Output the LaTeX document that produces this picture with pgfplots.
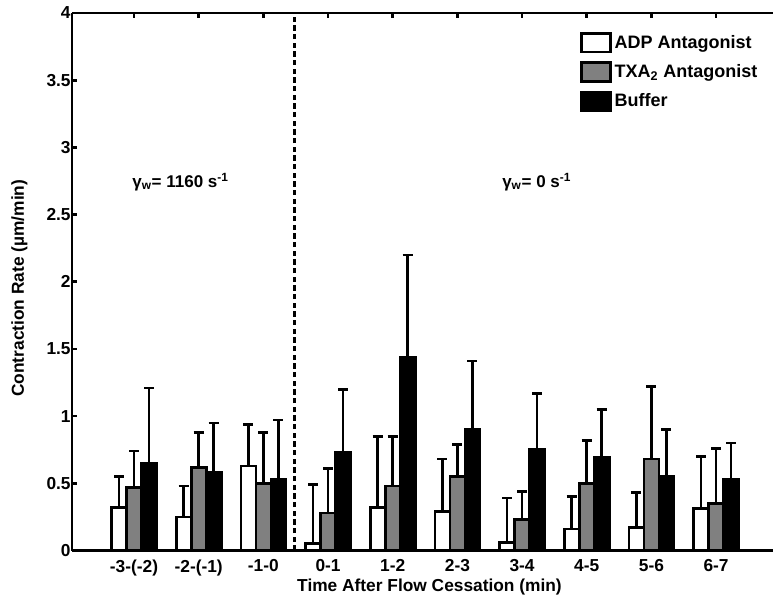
\documentclass[border=0pt]{standalone}
\usepackage{pgfplots}
\pgfplotsset{compat=1.18}
\usepackage{pgfplotstable}
\usepackage{fontspec}
\setmainfont{Liberation Sans}

\pgfplotstableread{
x adp adpe txa txae buf bufe
0 0.32 0.23 0.47 0.27 0.65 0.56
1 0.25 0.23 0.62 0.26 0.58 0.37
2 0.63 0.31 0.50 0.38 0.53 0.44
3 0.05 0.44 0.28 0.33 0.73 0.47
4 0.32 0.53 0.48 0.37 1.44 0.76
5 0.29 0.39 0.55 0.24 0.90 0.51
6 0.06 0.33 0.23 0.21 0.755 0.415
7 0.16 0.24 0.50 0.32 0.69 0.36
8 0.17 0.26 0.68 0.54 0.555 0.345
9 0.315 0.385 0.35 0.41 0.53 0.27
}\data

\definecolor{midgray}{HTML}{808080}

\pgfplotsset{
  errstyle/.style={
    error bars/.cd, y dir=plus, y explicit,
    error bar style={line width=2pt, black},
    error mark options={rotate=90, line width=2pt, mark size=3.75pt, black}
  }
}

\begin{document}
\begin{tikzpicture}
\useasboundingbox (-54pt,-37.875pt) rectangle (525.75pt,412.875pt);
\begin{axis}[
  at={(0,0)}, anchor=south west,
  scale only axis, width=525.75pt, height=403.125pt,
  xmin=-0.959, xmax=9.88, ymin=0, ymax=4,
  axis x line=box, axis y line=left,
  axis line style={-, line width=2pt},
  tick align=inside, major tick length=3.75pt,
  every tick/.style={black, line width=2pt},
  xtick={0,...,9},
  xticklabels={-3-(-2),-2-(-1),-1-0,0-1,1-2,2-3,3-4,4-5,5-6,6-7},
  ytick={0,0.5,1,1.5,2,2.5,3,3.5,4},
  yticklabels={0,0.5,1,1.5,2,2.5,3,3.5,4},
  tick label style={font=\bfseries\fontsize{13}{15}\selectfont},
  xticklabel style={yshift=-3.5pt},
  yticklabel style={xshift=2.5pt},
  xlabel={Time After Flow Cessation (min)},
  ylabel={Contraction Rate (µm/min)},
  label style={font=\bfseries\fontsize{13}{15}\selectfont},
  xlabel style={at={(axis description cs:0.51,-0.068)}, anchor=center},
  ylabel style={at={(axis description cs:-0.075,0.488)}, anchor=center},
  legend style={at={(0.7247,0.9647)}, anchor=north west, draw=none, fill=none,
    inner sep=0pt, outer sep=0pt, row sep=6pt,
    font=\bfseries\fontsize{13.5}{16}\selectfont,
    cells={anchor=west}},
  legend image code/.code={\draw[#1, line width=2pt] (0pt,-7pt) rectangle (22pt,7pt);},
]
\addplot[ybar, bar width=0.232, bar shift=0pt, fill=white, draw=black, line width=2pt, errstyle]
  table[x expr=\thisrow{x}-0.232, y=adp, y error=adpe] {\data};
\addplot[ybar, bar width=0.232, bar shift=0pt, fill=midgray, draw=black, line width=2pt, errstyle]
  table[x=x, y=txa, y error=txae] {\data};
\addplot[ybar, bar width=0.232, bar shift=0pt, fill=black, draw=black, line width=2pt, errstyle]
  table[x expr=\thisrow{x}+0.232, y=buf, y error=bufe] {\data};
\legend{ADP Antagonist, TXA\textsubscript{2} Antagonist, Buffer}
\draw[line width=2.25pt, dash pattern=on 4pt off 2.5pt] (axis cs:2.48,0) -- (axis cs:2.48,4);
\node[anchor=west, inner sep=0pt, font=\bfseries\fontsize{12.75}{15}\selectfont] at (axis cs:-0.03,2.74) {γ\textsubscript{w}= 1160 s\textsuperscript{-1}};
\node[anchor=west, inner sep=0pt, font=\bfseries\fontsize{12.75}{15}\selectfont] at (axis cs:5.69,2.74) {γ\textsubscript{w}= 0 s\textsuperscript{-1}};
\end{axis}
\end{tikzpicture}
\end{document}
